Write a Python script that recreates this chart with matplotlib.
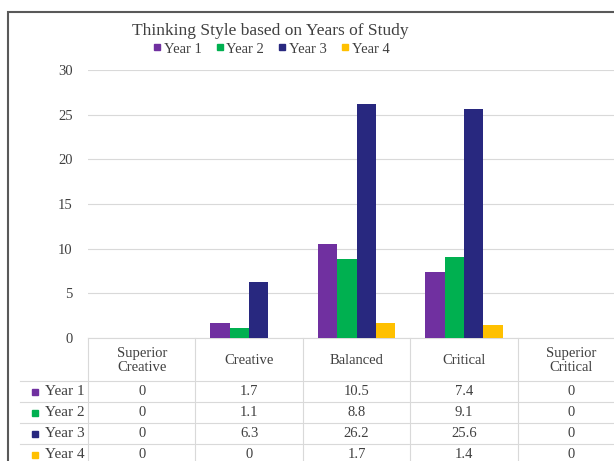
import numpy as np
import matplotlib
matplotlib.use("Agg")
import matplotlib.pyplot as plt
from matplotlib.lines import Line2D
from matplotlib.patches import Rectangle

categories = ["Superior\nCreative", "Creative", "Balanced", "Critical", "Superior\nCritical"]
series = ["Year 1", "Year 2", "Year 3", "Year 4"]
year1 = [0, 1.7, 10.5, 7.4, 0]
year2 = [0, 1.1, 8.8, 9.1, 0]
year3 = [0, 6.3, 26.2, 25.6, 0]
year4 = [0, 0, 1.7, 1.4, 0]
colors = ["#7030A0", "#00B050", "#28287F", "#FFC000"]
yticks = [0, 5, 10, 15, 20, 25, 30]

plt.rcParams["font.family"] = ["Liberation Serif", "DejaVu Serif"]
TXT = "#404040"
FS = 10.5

W, H = 614, 461
fig = plt.figure(figsize=(W / 100, H / 100), dpi=100)

# plot area in pixels: left 88, right ~625 (cut off), top y=70, bottom y=338
x0, x1, ytop, ybot = 88, 625, 70, 338
ax = fig.add_axes([x0 / W, 1 - ybot / H, (x1 - x0) / W, (ybot - ytop) / H])

values = [year1, year2, year3, year4]
x = np.arange(len(categories))
bw = 0.18
for i, (vals, c) in enumerate(zip(values, colors)):
    ax.bar(x + (i - 1.5) * bw, vals, width=bw, color=c, zorder=3)

ax.set_xlim(-0.5, len(categories) - 0.5)
ax.set_ylim(0, 30)
ax.set_yticks(yticks)
ax.set_xticks([])
ax.grid(axis="y", color="#D9D9D9", lw=0.8, zorder=0)
for s in ["top", "right", "left"]:
    ax.spines[s].set_visible(False)
ax.spines["bottom"].set_color("#D9D9D9")
ax.spines["bottom"].set_linewidth(0.8)
ax.tick_params(axis="y", length=0, pad=11, labelsize=FS, labelcolor=TXT)

# data table under the plot (x in data units, y in pixels -> axes fraction)
tr = ax.get_xaxis_transform()
ph = ybot - ytop


def fy(py):
    return -(py - ybot) / ph


def fx(px):
    return (px - x0) / (x1 - x0) * len(categories) - 0.5


grid_kw = dict(color="#D9D9D9", lw=0.8, transform=tr, clip_on=False)
header_bottom = 381
row_h = 21
n_rows = len(series)
table_bottom = header_bottom + row_h * n_rows
for b in np.arange(len(categories) + 1) - 0.5:
    ax.add_line(Line2D([b, b], [fy(ybot), fy(table_bottom)], **grid_kw))
for r in range(n_rows + 1):
    yy = fy(header_bottom + r * row_h)
    ax.add_line(Line2D([fx(20), x[-1] + 0.5], [yy, yy], **grid_kw))

txt_kw = dict(transform=tr, ha="center", va="center", fontsize=FS, color=TXT, clip_on=False)
for xi, cat in zip(x, categories):
    ax.text(xi, fy((ybot + header_bottom) / 2 + 1), cat, linespacing=1.15, **txt_kw)
for r, (name, vals, c) in enumerate(zip(series, values, colors)):
    yy = fy(header_bottom + (r + 0.5) * row_h)
    for xi, v in zip(x, vals):
        ax.text(xi, yy, f"{v:g}", **txt_kw)
    ax.text(fx(85), yy, name, transform=tr, ha="right", va="center", fontsize=FS + 0.5,
            color=TXT, clip_on=False)
    ax.plot([fx(35)], [yy], marker="s", ms=4.5, color=c, transform=tr, clip_on=False, ls="none")

# title and legend
fig.text(270 / W, 1 - 31 / H, "Thinking Style based on Years of Study", ha="center", va="center",
         fontsize=12.5, color=TXT)
handles = [Line2D([], [], marker="s", ms=4.5, ls="none", color=c) for c in colors]
fig.legend(handles, series, loc="center", bbox_to_anchor=(270 / W, 1 - 49 / H), ncol=4,
           frameon=False, fontsize=FS, handletextpad=0.0, columnspacing=0.8, handlelength=0.9,
           labelcolor=TXT, borderpad=0.1)

# chart border (continues past the right and bottom edges)
fig.patches.append(Rectangle((8 / W, -0.2), 1.2, 1.2 - 12 / H, transform=fig.transFigure,
                             fill=False, ec="#595959", lw=1.5))

fig.savefig("out.png", dpi=100)
